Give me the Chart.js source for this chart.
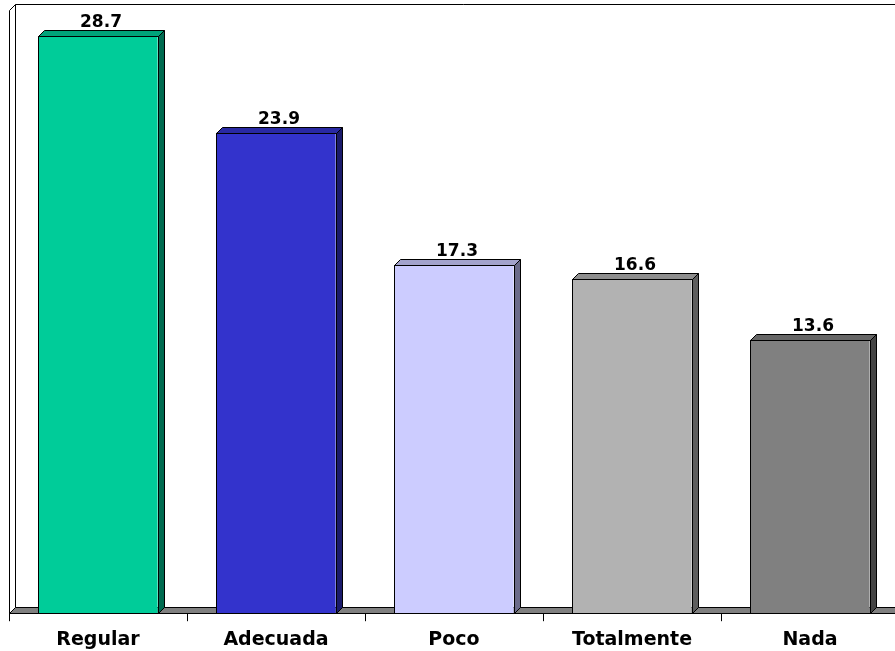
<!DOCTYPE html>
<html>
<head>
<meta charset="utf-8">
<script src="https://cdn.jsdelivr.net/npm/chart.js@4.4.1/dist/chart.umd.min.js"></script>
<style>
  html, body { margin: 0; padding: 0; background: #fff; overflow: hidden; }
  #wrap { width: 895px; height: 651px; overflow: hidden; }
</style>
</head>
<body>
<div id="wrap"><canvas id="c" width="910" height="662" style="width:910px;height:662px"></canvas></div>
<script>
const categorias = ['Regular', 'Adecuada', 'Poco', 'Totalmente', 'Nada']
const valores = [28.7, 23.9, 17.3, 16.6, 13.6]
const frente = ['#00CC99', '#3333CC', '#CCCCFF', '#B2B2B2', '#808080']
const techo = ['#00A37A', '#2929A3', '#A3A3CC', '#8E8E8E', '#666666']
const lado = ['#006B50', '#1A1A6B', '#6B6B8A', '#5E5E5E', '#444444']

const DEPTH = 6
const FONT = '"DejaVu Sans", Verdana, sans-serif'

const px = (v) => Math.round(v) + 0.5

const plot3d = {
  id: 'plot3d',
  beforeDatasetsDraw(chart) {
    const { ctx, chartArea: a } = chart
    const L = px(a.left), B = px(a.bottom), T = px(a.top), R = px(a.right)
    ctx.save()
    ctx.lineWidth = 1
    ctx.strokeStyle = '#000'
    // left wall
    ctx.fillStyle = '#fff'
    ctx.beginPath()
    ctx.moveTo(L, B)
    ctx.lineTo(L, T)
    ctx.lineTo(L + DEPTH, T - DEPTH)
    ctx.lineTo(L + DEPTH, B - DEPTH)
    ctx.closePath()
    ctx.fill()
    ctx.stroke()
    // back wall top edge
    ctx.beginPath()
    ctx.moveTo(L + DEPTH, T - DEPTH)
    ctx.lineTo(R + 20, T - DEPTH)
    ctx.stroke()
    // floor
    ctx.fillStyle = '#808080'
    ctx.beginPath()
    ctx.moveTo(L, B)
    ctx.lineTo(R, B)
    ctx.lineTo(R + DEPTH, B - DEPTH)
    ctx.lineTo(L + DEPTH, B - DEPTH)
    ctx.closePath()
    ctx.fill()
    ctx.stroke()
    ctx.restore()
  },
  afterDatasetsDraw(chart) {
    const { ctx } = chart
    const meta = chart.getDatasetMeta(0)
    ctx.save()
    ctx.lineWidth = 1
    ctx.strokeStyle = '#000'
    meta.data.forEach((bar, i) => {
      const l = px(bar.x - bar.width / 2)
      const r = px(bar.x + bar.width / 2)
      const t = px(bar.y)
      const b = px(bar.base)
      // front outline
      ctx.strokeRect(l, t, r - l, b - t)
      // top face
      ctx.fillStyle = techo[i]
      ctx.beginPath()
      ctx.moveTo(l, t)
      ctx.lineTo(l + DEPTH, t - DEPTH)
      ctx.lineTo(r + DEPTH, t - DEPTH)
      ctx.lineTo(r, t)
      ctx.closePath()
      ctx.fill()
      ctx.stroke()
      // side face
      ctx.fillStyle = lado[i]
      ctx.beginPath()
      ctx.moveTo(r, t)
      ctx.lineTo(r + DEPTH, t - DEPTH)
      ctx.lineTo(r + DEPTH, b - DEPTH)
      ctx.lineTo(r, b)
      ctx.closePath()
      ctx.fill()
      ctx.stroke()
      // value label
      ctx.fillStyle = '#000'
      ctx.font = 'bold 17px ' + FONT
      ctx.textAlign = 'center'
      ctx.textBaseline = 'alphabetic'
      ctx.fillText(valores[i].toFixed(1), bar.x + DEPTH / 2, t - DEPTH - 4)
    })
    ctx.restore()
  }
}

new Chart(document.getElementById('c'), {
  type: 'bar',
  data: {
    labels: categorias,
    datasets: [{
      data: valores,
      backgroundColor: frente,
      borderWidth: 0,
      categoryPercentage: 1,
      barPercentage: 0.67
    }]
  },
  options: {
    responsive: false,
    animation: false,
    layout: { padding: { left: 9, top: 10, right: 11, bottom: 4 } },
    plugins: { legend: { display: false }, tooltip: { enabled: false } },
    scales: {
      y: { display: false, min: 0, max: 30 },
      x: {
        grid: { offset: true, drawOnChartArea: false, drawTicks: true, tickLength: 8, color: '#000' },
        border: { display: false },
        ticks: {
          color: '#000',
          padding: 7,
          font: { family: FONT, size: 19, weight: 'bold' }
        }
      }
    }
  },
  plugins: [plot3d]
})
</script>
</body>
</html>
